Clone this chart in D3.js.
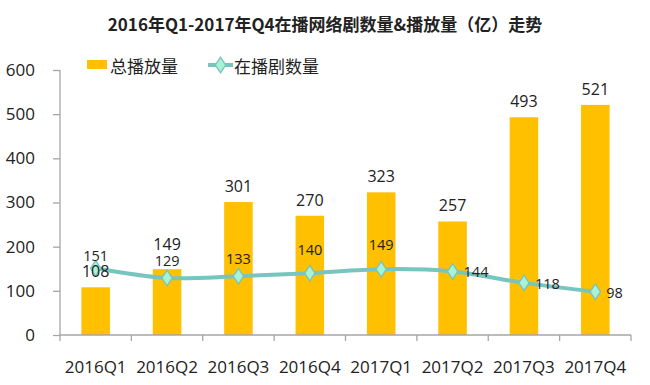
<!DOCTYPE html>
<html lang="zh">
<head>
<meta charset="utf-8">
<title>在播网络剧数量&播放量走势</title>
<script src="https://d3js.org/d3.v7.min.js"></script>
<style>
  body { margin: 0; background: #fff; }
  text { font-family: "Open Sans", "Noto Sans CJK SC", sans-serif; fill: #222; }
</style>
</head>
<body>
<div id="chart"></div>
<script>
// data
var quarters = ['2016Q1','2016Q2','2016Q3','2016Q4','2017Q1','2017Q2','2017Q3','2017Q4'];
var plays = [108, 149, 301, 270, 323, 257, 493, 521];      // 总播放量 (亿)
var shows = [151, 129, 133, 140, 149, 144, 118, 98];       // 在播剧数量
var yTicks = [0, 100, 200, 300, 400, 500, 600];

// where the labels sit relative to their marks
var barLabelDy = [-10, -19, -10, -10, -10, -10, -10, -10];
var lineLabelPos = ['top','top','top','top','top','right','right','right'];
var lineLabelDy = [-7, -12, -12, -18, -19, 6, 6, 6];

var W = 650, H = 385;
var barColor = '#FFC000', lineColor = '#78C4BF', markFill = '#A8F2D6';

var svg = d3.select('#chart').append('svg')
    .attr('width', W).attr('height', H);

var x = d3.scaleBand().domain(quarters).range([60, 631]);
var y = d3.scaleLinear().domain([0, 600]).range([335, 70]);
var bw = x.bandwidth() * 0.4;

// title
svg.append('text')
    .attr('x', 325).attr('y', 31)
    .attr('text-anchor', 'middle')
    .style('font-family', '"Noto Sans CJK SC", sans-serif')
    .style('font-weight', 'bold')
    .style('font-size', '17px')
    .text('2016年Q1-2017年Q4在播网络剧数量&播放量（亿）走势');

// y axis
var yAxis = svg.append('g')
    .attr('transform', 'translate(60,0)')
    .call(d3.axisLeft(y).tickValues(yTicks).tickSize(7).tickPadding(18));
yAxis.selectAll('path, line').attr('stroke', '#a6a6a6').attr('stroke-width', 1.3);
yAxis.select('.domain').attr('d', 'M0,' + y(600) + 'V' + y(0));
yAxis.selectAll('text').style('font-size', '17px').style('font-family', '"Open Sans", sans-serif').attr('fill', '#222');

// bars
svg.selectAll('rect.bar')
    .data(plays)
    .enter().append('rect')
    .attr('class', 'bar')
    .attr('x', function(d, i) { return x(quarters[i]) + (x.bandwidth() - bw) / 2; })
    .attr('width', bw)
    .attr('y', function(d) { return y(d); })
    .attr('height', function(d) { return y(0) - y(d); })
    .attr('fill', barColor);

// x axis (ticks at band boundaries)
var xa = svg.append('g');
xa.append('line')
    .attr('x1', 60).attr('x2', 631)
    .attr('y1', y(0)).attr('y2', y(0))
    .attr('stroke', '#a6a6a6').attr('stroke-width', 1.3);
xa.selectAll('line.tick')
    .data(quarters.concat(['end']))
    .enter().append('line')
    .attr('class', 'tick')
    .attr('x1', function(d, i) { return 60 + i * x.bandwidth(); })
    .attr('x2', function(d, i) { return 60 + i * x.bandwidth(); })
    .attr('y1', y(0)).attr('y2', y(0) + 6)
    .attr('stroke', '#a6a6a6').attr('stroke-width', 1.3);
xa.selectAll('text')
    .data(quarters)
    .enter().append('text')
    .attr('x', function(d) { return x(d) + x.bandwidth() / 2; })
    .attr('y', 373)
    .attr('text-anchor', 'middle')
    .style('font-size', '17px')
    .text(function(d) { return d; });

// line
var cx = function(i) { return x(quarters[i]) + x.bandwidth() / 2; };
var line = d3.line()
    .x(function(d, i) { return cx(i); })
    .y(function(d) { return y(d); })
    .curve(d3.curveCatmullRom.alpha(0.5));

svg.append('path')
    .datum(shows)
    .attr('d', line)
    .attr('fill', 'none')
    .attr('stroke', lineColor)
    .attr('stroke-width', 4)
    .attr('stroke-linecap', 'round');

var diamond = d3.symbol().type(d3.symbolDiamond).size(70);
svg.selectAll('path.mark')
    .data(shows)
    .enter().append('path')
    .attr('class', 'mark')
    .attr('d', diamond)
    .attr('transform', function(d, i) { return 'translate(' + cx(i) + ',' + y(d) + ') scale(1.15,1)'; })
    .attr('fill', markFill)
    .attr('stroke', lineColor)
    .attr('stroke-width', 1.2);

// line labels
svg.selectAll('text.linelab')
    .data(shows)
    .enter().append('text')
    .attr('class', 'linelab')
    .attr('x', function(d, i) { return lineLabelPos[i] == 'right' ? cx(i) + 11 : cx(i); })
    .attr('y', function(d, i) { return y(d) + lineLabelDy[i]; })
    .attr('text-anchor', function(d, i) { return lineLabelPos[i] == 'right' ? 'start' : 'middle'; })
    .style('font-size', '14.5px')
    .text(function(d) { return d; });

// bar labels (drawn last: 108 sits over the first point)
svg.selectAll('text.barlab')
    .data(plays)
    .enter().append('text')
    .attr('class', 'barlab')
    .attr('x', function(d, i) { return x(quarters[i]) + x.bandwidth() / 2; })
    .attr('y', function(d, i) { return y(d) + barLabelDy[i]; })
    .attr('text-anchor', 'middle')
    .style('font-size', '16px')
    .text(function(d) { return d; });

// legend
var lg = svg.append('g');
lg.append('rect')
    .attr('x', 87).attr('y', 60).attr('width', 20).attr('height', 9)
    .attr('fill', barColor);
lg.append('text')
    .attr('x', 110).attr('y', 73)
    .style('font-family', '"Noto Sans CJK SC", sans-serif')
    .style('font-size', '17px')
    .text('总播放量');
lg.append('line')
    .attr('x1', 208).attr('x2', 233).attr('y1', 65).attr('y2', 65)
    .attr('stroke', lineColor).attr('stroke-width', 4);
lg.append('path')
    .attr('d', diamond)
    .attr('transform', 'translate(220.5,65) scale(1.15,1)')
    .attr('fill', markFill)
    .attr('stroke', lineColor)
    .attr('stroke-width', 1.2);
lg.append('text')
    .attr('x', 234).attr('y', 73)
    .style('font-family', '"Noto Sans CJK SC", sans-serif')
    .style('font-size', '17px')
    .text('在播剧数量');
</script>
</body>
</html>
